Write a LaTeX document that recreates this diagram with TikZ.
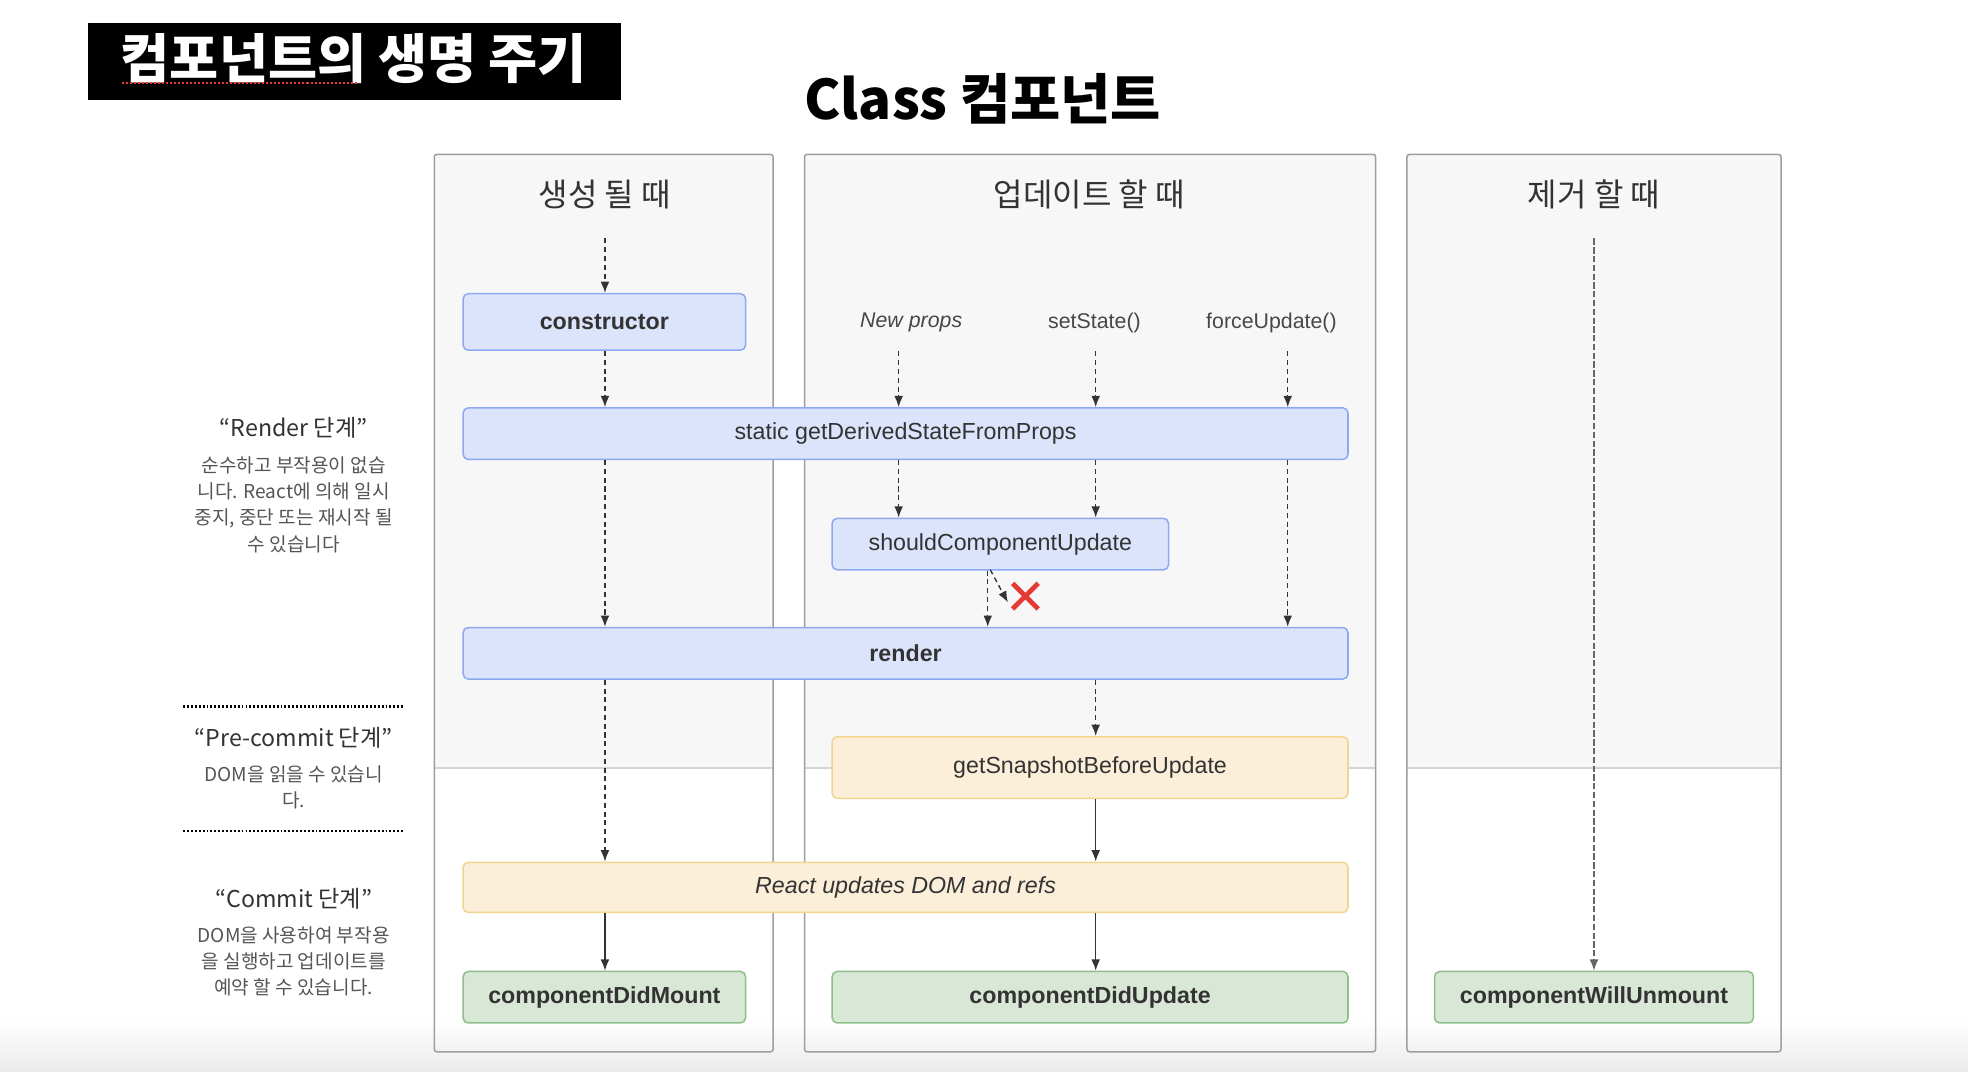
\documentclass[tikz,border=0pt]{standalone}
\usepackage{fontspec}
\setmainfont{Liberation Sans}
\newfontfamily\kr{Noto Sans CJK KR}
\usetikzlibrary{arrows.meta}
\definecolor{txt}{HTML}{333333}
\definecolor{subtxt}{HTML}{555555}
\definecolor{panelfill}{HTML}{F7F7F7}
\definecolor{panelline}{HTML}{9E9E9E}
\definecolor{divline}{HTML}{D4D4D4}
\definecolor{bluefill}{HTML}{DCE4FB}
\definecolor{blueline}{HTML}{8EA8F4}
\definecolor{yelfill}{HTML}{FBEFD9}
\definecolor{yelline}{HTML}{F2D58E}
\definecolor{grnfill}{HTML}{D9E7D6}
\definecolor{grnline}{HTML}{8FBF88}
\definecolor{arrowc}{HTML}{2F3437}
\definecolor{xred}{HTML}{E53935}
\tikzset{
  lifebox/.style={draw, rounded corners=4pt, line width=1.2pt, inner sep=0pt, text=txt, font=\fontsize{18.5}{22}\selectfont},
  bluebox/.style={lifebox, fill=bluefill, draw=blueline},
  yelbox/.style={lifebox, fill=yelfill, draw=yelline},
  grnbox/.style={lifebox, fill=grnfill, draw=grnline},
  panel/.style={draw=panelline, line width=1.2pt, rounded corners=2pt},
  dasharrow/.style={arrowc, line width=1.1pt, dash pattern=on 4pt off 3pt, -{Latex[length=9pt,width=7pt]}},
  solidarrow/.style={arrowc, line width=1.1pt, -{Latex[length=9pt,width=7pt]}},
  longdash/.style={black!60, line width=1pt, dash pattern=on 5pt off 2pt, -{Latex[length=9pt,width=7pt]}},
  header/.style={text=txt, font=\kr\fontsize{25.5}{30}\selectfont},
  phase/.style={text=txt, font=\kr\fontsize{18.5}{22}\selectfont},
  phasedesc/.style={text=subtxt, align=center, font=\kr\fontsize{15.2}{21}\selectfont},
  trigger/.style={text=txt!90, font=\fontsize{17}{20}\selectfont},
  sepline/.style={black, line width=2pt, dash pattern=on 1.5pt off 1.6pt}
}
\begin{document}
\begin{tikzpicture}[x=1pt,y=-1pt]
\useasboundingbox (0,0) rectangle (1568,854);
\fill[white] (0,0) rectangle (1568,854);
\shade[top color=white, bottom color=black!8] (0,812) rectangle (1568,854);

% title box
\node[fill=black, minimum width=425pt, minimum height=62pt, inner sep=0pt] (tbox) at (282.5,49) {};
\node[text=white, font=\kr\bfseries\fontsize{42.5}{46}\selectfont] (ttext) at (282,47) {컴포넌트의 생명 주기};
\coordinate (ul1) at (97,66);
\coordinate (ul2) at (285,66);
\draw[xred, line width=1.6pt, dash pattern=on 1.6pt off 1.6pt] (ul1) -- (ul2);

\node[text=black, font=\kr\bfseries\fontsize{43.5}{47}\selectfont] (ctitle) at (783,79) {Class 컴포넌트};

% panels
\fill[panelfill] (346,123) rectangle (616,612);
\fill[panelfill] (641,123) rectangle (1096,612);
\fill[panelfill] (1121,123) rectangle (1419,612);
\draw[divline, line width=1.2pt] (346,612) -- (616,612);
\draw[divline, line width=1.2pt] (641,612) -- (1096,612);
\draw[divline, line width=1.2pt] (1121,612) -- (1419,612);
\draw[panel] (346,123) rectangle (616,838);
\draw[panel] (641,123) rectangle (1096,838);
\draw[panel] (1121,123) rectangle (1419,838);

\node[header] (h1) at (482,155) {생성 될 때};
\node[header] (h2) at (868,155) {업데이트 할 때};
\node[header] (h3) at (1270,155) {제거 할 때};

% left phase texts
\node[phase] (p1) at (234,341) {“Render 단계”};
\node[phasedesc] (p1d) at (234,402) {순수하고 부작용이 없습\\니다. React에 의해 일시\\중지, 중단 또는 재시작 될\\수 있습니다};
\coordinate (sa1) at (146,563);
\coordinate (sa2) at (322,563);
\draw[sepline] (sa1) -- (sa2);
\node[phase] (p2) at (234,588) {“Pre-commit 단계”};
\node[phasedesc] (p2d) at (234,627.5) {DOM을 읽을 수 있습니\\다.};
\coordinate (sb1) at (146,662);
\coordinate (sb2) at (322,662);
\draw[sepline] (sb1) -- (sb2);
\node[phase] (p3) at (234,716) {“Commit 단계”};
\node[phasedesc] (p3d) at (234,766) {DOM을 사용하여 부작용\\을 실행하고 업데이트를\\예약 할 수 있습니다.};

% boxes
\node[bluebox, minimum width=225pt, minimum height=45pt] (ctor) at (481.5,256.5) {\bfseries constructor};
\node[bluebox, minimum width=705pt, minimum height=41pt] (gd) at (721.5,345.5) {static getDerivedStateFromProps};
\node[bluebox, minimum width=268pt, minimum height=41pt] (scu) at (797,433.5) {shouldComponentUpdate};
\node[bluebox, minimum width=705pt, minimum height=41pt] (render) at (721.5,520.5) {\bfseries render};
\node[yelbox, minimum width=411pt, minimum height=49pt] (gsbu) at (868.5,611.5) {getSnapshotBeforeUpdate};
\node[yelbox, minimum width=705pt, minimum height=40pt] (rudr) at (721.5,707) {\itshape React updates DOM and refs};
\node[grnbox, minimum width=225pt, minimum height=41pt] (cdm) at (481.5,794.5) {\bfseries componentDidMount};
\node[grnbox, minimum width=411pt, minimum height=41pt] (cdu) at (868.5,794.5) {\bfseries componentDidUpdate};
\node[grnbox, minimum width=254pt, minimum height=41pt] (cwu) at (1270,794.5) {\bfseries componentWillUnmount};

% triggers
\node[trigger] (np) at (726,257) {\itshape New props};
\node[trigger] (ss) at (872,257) {setState()};
\node[trigger] (fu) at (1013,257) {forceUpdate()};

% connectors
\coordinate (s1) at (482,190);
\coordinate (a1) at (716,280);
\coordinate (a2) at (873,280);
\coordinate (a3) at (1026,280);
\coordinate (b1) at (787,454);
\coordinate (b2) at (803,480);
\coordinate (s3) at (1270,190);

\draw[dasharrow] (s1) -- (s1 |- ctor.north);
\draw[dasharrow] (s1 |- ctor.south) -- (s1 |- gd.north);
\draw[dasharrow] (a1) -- (a1 |- gd.north);
\draw[dasharrow] (a2) -- (a2 |- gd.north);
\draw[dasharrow] (a3) -- (a3 |- gd.north);
\draw[dasharrow] (s1 |- gd.south) -- (s1 |- render.north);
\draw[dasharrow] (a1 |- gd.south) -- (a1 |- scu.north);
\draw[dasharrow] (a2 |- gd.south) -- (a2 |- scu.north);
\draw[dasharrow] (a3 |- gd.south) -- (a3 |- render.north);
\draw[dasharrow] (b1 |- scu.south) -- (b1 |- render.north);
\draw[dasharrow] ([xshift=2pt]b1) -- (b2);
\node[inner sep=0pt, minimum size=20pt] (xmark) at (817,475) {};
\draw[xred, line width=3.8pt] (xmark.north west) -- (xmark.south east);
\draw[xred, line width=3.8pt] (xmark.north east) -- (xmark.south west);
\draw[dasharrow] (a2 |- render.south) -- (a2 |- gsbu.north);
\draw[dasharrow] (s1 |- render.south) -- (s1 |- rudr.north);
\draw[solidarrow] (a2 |- gsbu.south) -- (a2 |- rudr.north);
\draw[solidarrow] (s1 |- rudr.south) -- (s1 |- cdm.north);
\draw[solidarrow] (a2 |- rudr.south) -- (a2 |- cdu.north);
\draw[longdash] (s3) -- (cwu.north);
\end{tikzpicture}
\end{document}
